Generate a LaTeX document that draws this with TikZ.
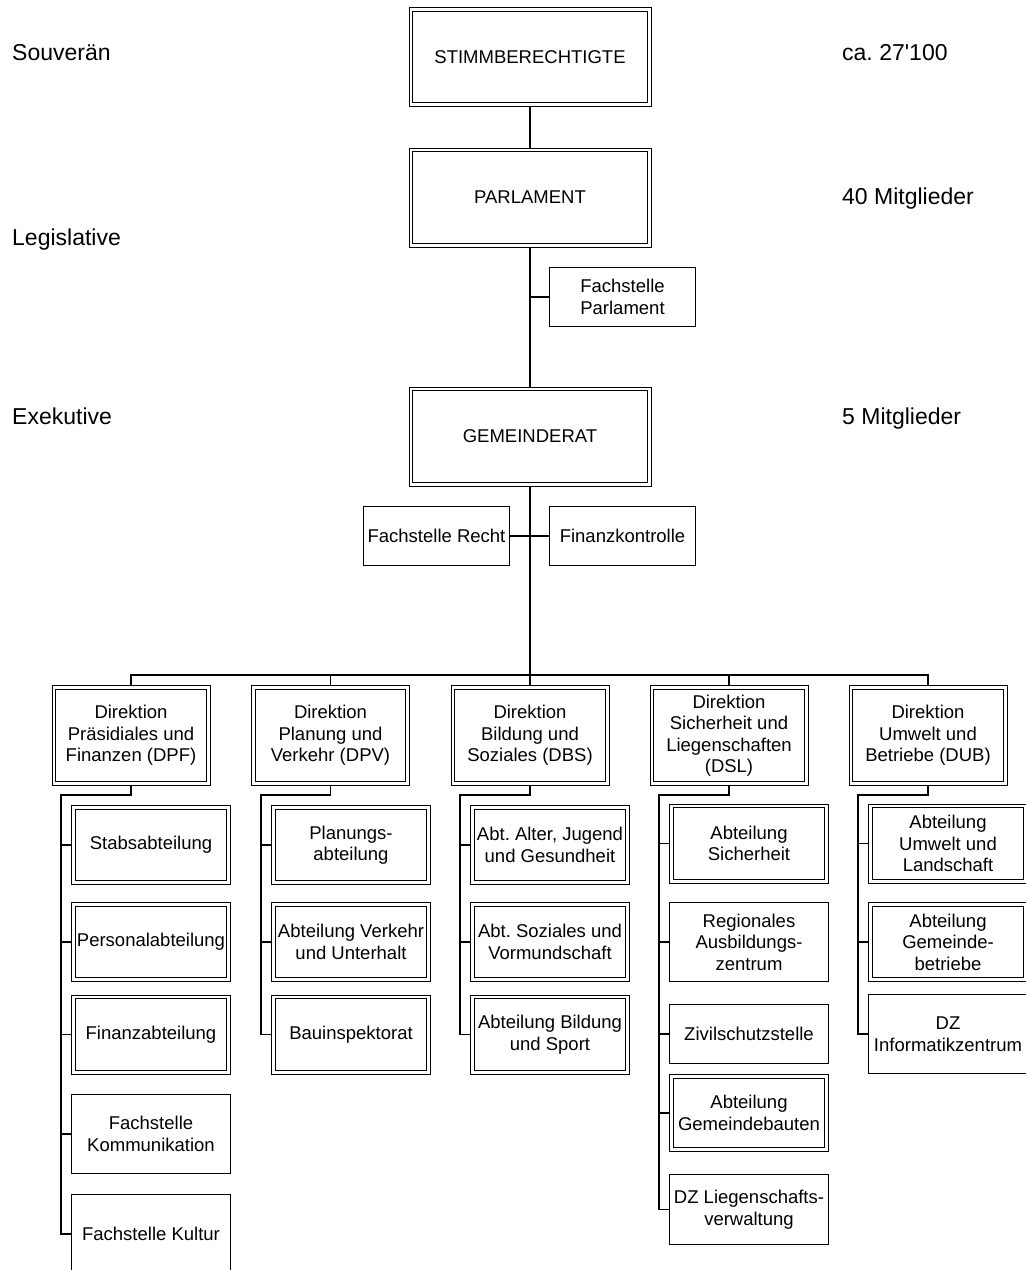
\documentclass[tikz,border=0pt]{standalone}
\usepackage{fontspec}
\setmainfont{Liberation Sans}
\newfontfamily\rawfont{Liberation Sans}
\frenchspacing

\begin{document}
\begin{tikzpicture}[x=1pt, y=-1pt,
  conn/.style={line width=1.6pt},
  dbl/.style={draw, double, line width=1pt, double distance=2.6pt, outer sep=2.3pt,
    inner sep=0pt, align=center, font=\fontsize{18.5}{21.5}\selectfont},
  sgl/.style={draw, line width=1pt, inner sep=0pt, align=center,
    font=\fontsize{18.5}{21.5}\selectfont},
  gremium/.style={dbl, minimum width=238.4pt, minimum height=95.4pt},
  direk/.style={dbl, minimum width=154.4pt, minimum height=96.4pt},
  abt/.style={dbl, minimum width=155.4pt, minimum height=75.4pt},
  stelle/.style={sgl, minimum width=159pt, minimum height=79pt},
  stabsst/.style={sgl, minimum width=146pt, minimum height=59pt},
  seite/.style={anchor=base west, inner sep=0pt, font=\fontsize{23}{27}\selectfont}]
  \useasboundingbox (0,0) rectangle (1026,1270);

  % Ebenen links und rechts
  \node[seite] (souv) at (12,60) {Souverän};
  \node[seite] (legi) at (12,245) {Legislative};
  \node[seite] (exek) at (12,424) {Exekutive};
  \node[seite] (anz1) at (842,60) {\rawfont ca. 27'100};
  \node[seite] (anz2) at (842,204) {40 Mitglieder};
  \node[seite] (anz3) at (842,424) {5 Mitglieder};

  % Stamm
  \node[gremium] (volk) at (530,57) {STIMMBERECHTIGTE};
  \node[gremium] (parl) at (530,197.5) {PARLAMENT};
  \node[gremium] (gr) at (530,436.5) {GEMEINDERAT};
  \node[stabsst] (fparl) at (622.5,297) {Fachstelle\\Parlament};
  \node[stabsst] (frecht) at (436.5,536) {Fachstelle Recht};
  \node[stabsst] (fiko) at (622.5,536) {Finanzkontrolle};
  \coordinate (bar) at (530,675);

  \draw[conn] (volk) -- (parl);
  \draw[conn] (parl) -- (gr);
  \draw[conn] (fparl.west) -- (fparl.west -| parl.south);
  \draw[conn] (gr.south) -- (bar);
  \draw[conn] (frecht.east) -- (fiko.west);

  % Direktionen
  \node[direk] (dpf) at (131,735.5) {Direktion\\Präsidiales und\\Finanzen (DPF)};
  \node[direk] (dpv) at (330.5,735.5) {Direktion\\Planung und\\Verkehr (DPV)};
  \node[direk] (dbs) at (530,735.5) {Direktion\\Bildung und\\Soziales (DBS)};
  \node[direk] (dsl) at (729,735.5) {Direktion\\Sicherheit und\\Liegenschaften\\(DSL)};
  \node[direk] (dub) at (928,735.5) {Direktion\\Umwelt und\\Betriebe (DUB)};

  \draw[conn] (dpf.north) |- (bar) -| (dub.north);
  \draw[conn] (dpv.north) -- (dpv.north |- bar);
  \draw[conn] (dbs.north) -- (bar);
  \draw[conn] (dsl.north) -- (dsl.north |- bar);

  % DPF
  \node[abt] (stab) at (151,845) {Stabsabteilung};
  \node[abt] (pers) at (151,942) {Personalabteilung};
  \node[abt] (fin) at (151,1034.5) {Finanzabteilung};
  \node[stelle] (komm) at (151,1134) {Fachstelle\\Kommunikation};
  \node[stelle] (kult) at (151,1234) {Fachstelle Kultur};
  \coordinate (dpfv) at (61,795);
  \draw[conn] (dpf.south) |- (dpfv) |- (kult.west);
  \draw[conn] (stab.west) -- (stab.west -| dpfv);
  \draw[conn] (pers.west) -- (pers.west -| dpfv);
  \draw[conn] (fin.west) -- (fin.west -| dpfv);
  \draw[conn] (komm.west) -- (komm.west -| dpfv);

  % DPV
  \node[abt] (plan) at (351,845) {Planungs-\\abteilung};
  \node[abt] (verk) at (351,942) {Abteilung Verkehr\\und Unterhalt};
  \node[abt] (bau) at (351,1034.5) {Bauinspektorat};
  \coordinate (dpvv) at (261,795);
  \draw[conn] (dpv.south) |- (dpvv) |- (bau.west);
  \draw[conn] (plan.west) -- (plan.west -| dpvv);
  \draw[conn] (verk.west) -- (verk.west -| dpvv);

  % DBS
  \node[abt] (ajg) at (550,845) {Abt. Alter, Jugend\\und Gesundheit};
  \node[abt] (soz) at (550,942) {Abt. Soziales und\\Vormundschaft};
  \node[abt] (bild) at (550,1034.5) {Abteilung Bildung\\und Sport};
  \coordinate (dbsv) at (460,795);
  \draw[conn] (dbs.south) |- (dbsv) |- (bild.west);
  \draw[conn] (ajg.west) -- (ajg.west -| dbsv);
  \draw[conn] (soz.west) -- (soz.west -| dbsv);

  % DSL
  \node[abt] (sich) at (749,843.5) {Abteilung\\Sicherheit};
  \node[stelle] (raz) at (749,942) {Regionales\\Ausbildungs-\\zentrum};
  \node[stelle, minimum height=59pt] (zivil) at (749,1034) {Zivilschutzstelle};
  \node[abt, minimum height=73.4pt] (gbau) at (749,1113) {Abteilung\\Gemeindebauten};
  \node[stelle, minimum height=70pt] (lieg) at (749,1209.5) {DZ Liegenschafts-\\verwaltung};
  \coordinate (dslv) at (659,795);
  \draw[conn] (dsl.south) |- (dslv) |- (lieg.west);
  \draw[conn] (sich.west) -- (sich.west -| dslv);
  \draw[conn] (raz.west) -- (raz.west -| dslv);
  \draw[conn] (zivil.west) -- (zivil.west -| dslv);
  \draw[conn] (gbau.west) -- (gbau.west -| dslv);

  % DUB
  \node[abt] (uml) at (948,843.5) {Abteilung\\Umwelt und\\Landschaft};
  \node[abt] (gbetr) at (948,942) {Abteilung\\Gemeinde-\\betriebe};
  \node[stelle] (iz) at (948,1034) {DZ\\Informatikzentrum};
  \coordinate (dubv) at (858,795);
  \draw[conn] (dub.south) |- (dubv) |- (iz.west);
  \draw[conn] (uml.west) -- (uml.west -| dubv);
  \draw[conn] (gbetr.west) -- (gbetr.west -| dubv);
\end{tikzpicture}
\end{document}
